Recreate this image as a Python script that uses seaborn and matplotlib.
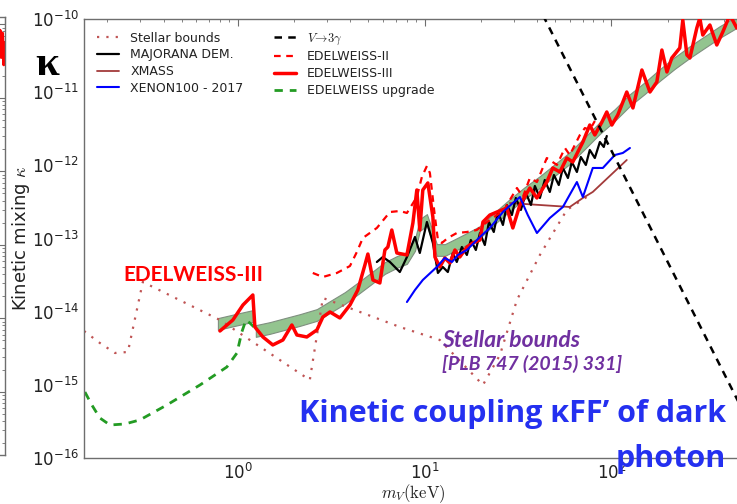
import numpy as np
import pandas as pd
import matplotlib
matplotlib.use("Agg")
import matplotlib.pyplot as plt
import seaborn as sns

# ---------------------------------------------------------------
# Limits on the kinetic mixing of a dark photon.
# All curves are given as log10(mass / keV) and log10(kappa).
# ---------------------------------------------------------------
stellar_logm = [-0.824, -0.739, -0.658, -0.589, -0.509, -0.096, 0.385, 0.455,
                0.867, 1.081, 1.312, 1.403, 1.494, 1.617, 1.761, 1.884]
stellar_logk = [-14.264, -14.428, -14.565, -14.551, -13.594, -14.114, -14.934, -13.813,
                -14.209, -14.387, -15.002, -14.592, -13.840, -13.225, -12.610, -12.405]

upgrade_logm = [-0.819, -0.782, -0.739, -0.685, -0.605, -0.525, -0.380, -0.203,
                -0.059, -0.005, 0.021, 0.043, 0.064, 0.086]
upgrade_logk = [-15.098, -15.275, -15.453, -15.549, -15.535, -15.480, -15.275, -15.002,
                -14.756, -14.565, -14.278, -14.114, -14.155, -14.209]

v3g_logm = [1.60, 2.699]
v3g_logk = [-9.78, -15.33]

xenon_logm = [0.905, 0.948, 0.990, 1.065, 1.108, 1.146, 1.178, 1.226, 1.296, 1.349,
              1.419, 1.472, 1.510, 1.552, 1.601, 1.670, 1.740, 1.815, 1.847, 1.900,
              1.954, 2.018, 2.061, 2.099]
xenon_logk = [-13.868, -13.704, -13.567, -13.389, -13.266, -13.321, -13.225, -13.157,
              -12.979, -12.856, -12.638, -12.515, -12.433, -12.679, -12.925, -12.720,
              -12.569, -12.228, -12.433, -12.036, -12.036, -11.859, -11.831, -11.763]

xmass_logm = [1.456, 1.777, 1.847, 1.900, 2.082]
xmass_logk = [-12.515, -12.569, -12.446, -12.364, -11.927]

edw2_logm = [0.401, 0.455, 0.530, 0.600, 0.637, 0.669, 0.744, 0.814, 0.867, 0.905,
             0.958, 0.985, 1.012, 1.028, 1.055, 1.071, 1.092, 1.124, 1.172, 1.226,
             1.279, 1.312, 1.387, 1.419, 1.456, 1.494, 1.526, 1.563, 1.601, 1.654,
             1.708, 1.751, 1.777, 1.831, 1.858, 1.884, 1.911]
edw2_logk = [-13.471, -13.526, -13.471, -13.376, -13.184, -12.993, -12.856, -12.638,
             -12.624, -12.651, -12.433, -12.159, -12.009, -12.105, -12.706, -13.020,
             -13.061, -12.993, -12.925, -12.911, -12.884, -12.815, -12.679, -12.638,
             -12.474, -12.310, -12.433, -12.173, -12.228, -11.900, -11.995, -11.763,
             -11.859, -11.585, -11.490, -11.517, -11.394]

majorana_logm = [0.744, 0.776, 0.814, 0.867, 0.905, 0.948, 0.974, 1.012, 1.044, 1.071,
                 1.097, 1.124, 1.151, 1.172, 1.199, 1.226, 1.247, 1.274, 1.296, 1.322,
                 1.344, 1.370, 1.392, 1.419, 1.440, 1.467, 1.488, 1.515, 1.542, 1.569,
                 1.590, 1.617, 1.643, 1.670, 1.692, 1.718, 1.740, 1.767, 1.788, 1.815,
                 1.836, 1.863, 1.884, 1.911, 1.938, 1.959, 1.975]
majorana_logk = [-13.321, -13.253, -13.321, -13.458, -13.253, -12.979, -13.198, -12.774,
                 -13.061, -13.471, -13.389, -13.458, -13.198, -13.321, -13.116, -13.225,
                 -13.020, -13.157, -12.925, -13.089, -12.774, -12.911, -12.638, -12.815,
                 -12.542, -12.679, -12.446, -12.610, -12.378, -12.542, -12.282, -12.446,
                 -12.200, -12.364, -12.132, -12.269, -12.036, -12.173, -11.954, -12.091,
                 -11.886, -11.995, -11.790, -11.900, -11.681, -11.749, -11.599]

edw3_logm = [-0.096, -0.027, 0.027, 0.080, 0.091, 0.134, 0.187, 0.241, 0.289, 0.316,
             0.369, 0.423, 0.455, 0.493, 0.546, 0.600, 0.642, 0.680, 0.696, 0.723,
             0.760, 0.787, 0.803, 0.824, 0.851, 0.905, 0.937, 0.958, 0.974, 0.990,
             1.017, 1.044, 1.055, 1.081, 1.108, 1.135, 1.162, 1.188, 1.226, 1.258,
             1.296, 1.312, 1.349, 1.387, 1.440, 1.472, 1.510, 1.563, 1.601, 1.654,
             1.686, 1.724, 1.761, 1.793, 1.847, 1.884, 1.911, 1.949, 1.975, 2.002,
             2.034, 2.082, 2.115, 2.163, 2.206, 2.243, 2.270, 2.297, 2.323, 2.366,
             2.382, 2.404, 2.420, 2.457, 2.473, 2.489, 2.527, 2.564, 2.596, 2.634,
             2.671, 2.714]
edw3_logk = [-14.264, -14.114, -13.909, -13.772, -14.209, -14.346, -14.455, -14.387,
             -14.182, -14.319, -14.346, -14.250, -14.073, -14.004, -14.086, -13.909,
             -13.704, -13.362, -13.212, -13.567, -13.608, -13.157, -13.116, -12.884,
             -13.198, -13.225, -12.788, -12.337, -12.884, -12.337, -12.241, -12.706,
             -13.253, -13.389, -13.266, -13.335, -13.157, -13.253, -13.116, -13.061,
             -13.020, -12.774, -12.679, -12.638, -12.583, -12.856, -12.542, -12.310,
             -12.446, -12.228, -12.036, -12.091, -11.900, -11.954, -11.681, -11.449,
             -11.585, -11.408, -11.271, -11.449, -11.312, -10.998, -11.216, -10.697,
             -10.998, -10.861, -10.424, -10.724, -10.533, -10.396, -10.014, -10.492,
             -10.533, -10.123, -9.986, -10.219, -10.082, -10.355, -10.178, -9.945,
             -10.123, -10.014]

# expected sensitivity band (centre line, +/- half width in dex), two pieces
band1_logm = [-0.107, -0.016, 0.080]
band1_logk = [-14.168, -14.114, -14.059]
band2_logm = [0.096, 0.171, 0.252, 0.332, 0.423, 0.493, 0.573, 0.653, 0.717, 0.787,
              0.851, 0.905, 0.948, 0.974, 1.012, 1.039, 1.065, 1.108, 1.162, 1.215,
              1.296, 1.376, 1.456, 1.536, 1.617, 1.697, 1.777, 1.858, 1.938, 2.018,
              2.099, 2.179, 2.259, 2.339, 2.420, 2.500, 2.580, 2.671, 2.714]
band2_logk = [-14.264, -14.223, -14.168, -14.114, -14.045, -13.936, -13.813, -13.663,
              -13.540, -13.403, -13.321, -13.266, -13.089, -12.815, -12.747, -12.952,
              -13.157, -13.157, -13.089, -13.020, -12.911, -12.720, -12.542, -12.378,
              -12.228, -12.064, -11.900, -11.695, -11.490, -11.312, -11.107, -10.943,
              -10.765, -10.601, -10.451, -10.314, -10.178, -10.041, -9.986]
band_half_dex = 0.08

# neighbouring panel edge (EDELWEISS-III curve near its upper limit)
side_x = [0.84, 0.88, 0.91, 0.94, 0.97, 1.00]
side_logk = [-10.62, -10.08, -10.45, -10.12, -10.55, -10.25]

# decade ticks
x_decades = [1, 10, 100]
y_decades = [1e-16, 1e-15, 1e-14, 1e-13, 1e-12, 1e-11, 1e-10]

# ---------------------------------------------------------------
sns.set_style("white")
plt.rcParams["font.family"] = ["DejaVu Sans"]
plt.rcParams["mathtext.fontset"] = "dejavusans"

W, H = 737, 504
fig = plt.figure(figsize=(W / 100, H / 100), dpi=100)
fig.patch.set_facecolor("white")

spine_col = "#6e6e6e"
lab_col = "#222222"


def style_axes(ax, right=True):
    for s in ax.spines.values():
        s.set_color(spine_col)
        s.set_linewidth(1.0)
    ax.tick_params(which="both", direction="in", top=True, right=right,
                   colors=spine_col, labelcolor=lab_col, labelsize=12)
    ax.tick_params(which="major", length=5, width=0.8)
    ax.tick_params(which="minor", length=2.5, width=0.6)


def curve(ax, x, y, **kw):
    df = pd.DataFrame({"x": x, "y": y})
    sns.lineplot(data=df, x="x", y="y", ax=ax, sort=False, estimator=None, **kw)


def logcurve(ax, logm, logk, **kw):
    curve(ax, 10 ** np.asarray(logm), 10 ** np.asarray(logk), **kw)


# --- neighbouring panel, mostly outside the canvas on the left
ax0 = fig.add_axes([-0.05, (H - 455) / H, 0.05 + 5 / W, 438 / H])
ax0.set_yscale("log")
curve(ax0, side_x, 10 ** np.asarray(side_logk), color="red", lw=2.2)
ax0.set_xlim(0, 1)
ax0.set_ylim(10 ** -15.86, 10 ** -9.9)
style_axes(ax0)
ax0.tick_params(which="both", labelbottom=False, labelleft=False,
                labeltop=False, labelright=False)
ax0.set_xlabel("")
ax0.set_ylabel("")

# --- main panel
ax = fig.add_axes([84 / W, (H - 458) / H, 658 / W, 439 / H])
ax.set_xscale("log")
ax.set_yscale("log")

for bm, bk in ((band1_logm, band1_logk), (band2_logm, band2_logk)):
    bm = np.asarray(bm)
    bk = np.asarray(bk)
    ax.fill_between(10 ** bm, 10 ** (bk - band_half_dex), 10 ** (bk + band_half_dex),
                    facecolor="#93c48f", edgecolor="#7f8f7f", lw=0.8, zorder=1)

logcurve(ax, stellar_logm, stellar_logk, color="#c05555", lw=1.6,
         linestyle=(0, (1, 3.2)), label="Stellar bounds", zorder=2)
logcurve(ax, upgrade_logm, upgrade_logk, color="#239b23", lw=2.0,
         linestyle=(0, (3, 2.5)), label="EDELWEISS upgrade", zorder=2)
logcurve(ax, xmass_logm, xmass_logk, color="#a33a3a", lw=1.3, label="XMASS", zorder=3)
logcurve(ax, majorana_logm, majorana_logk, color="black", lw=1.6,
         label="MAJORANA DEM.", zorder=3)
logcurve(ax, edw2_logm, edw2_logk, color="red", lw=1.6, linestyle=(0, (3, 2.5)),
         label="EDELWEISS-II", zorder=4)
logcurve(ax, edw3_logm, edw3_logk, color="red", lw=2.5, label="EDELWEISS-III", zorder=5)
logcurve(ax, xenon_logm, xenon_logk, color="blue", lw=1.5, label="XENON100 - 2017",
         zorder=5)
logcurve(ax, v3g_logm, v3g_logk, color="black", lw=1.8, linestyle=(0, (3, 2.5)),
         label=r"$V\!\rightarrow\!3\gamma$", zorder=6)

ax.set_xticks(x_decades)
ax.set_yticks(y_decades)
ax.set_xlim(0.15, 500)
ax.set_ylim(1e-16, 1e-10)
style_axes(ax, right=False)

ax.set_xlabel(r"$m_V(\mathrm{keV})$", fontsize=12, color=lab_col, labelpad=-0.3,
              math_fontfamily="cm")
ax.set_ylabel(r"Kinetic mixing $\kappa$", fontsize=13, color=lab_col, labelpad=0)
ax.yaxis.label.set_math_fontfamily("cm")

h, l = ax.get_legend_handles_labels()
order = ["Stellar bounds", "MAJORANA DEM.", "XMASS", "XENON100 - 2017",
         r"$V\!\rightarrow\!3\gamma$", "EDELWEISS-II", "EDELWEISS-III", "EDELWEISS upgrade"]
hmap = dict(zip(l, h))
leg = ax.legend([hmap[k] for k in order], order, ncol=2, loc="upper left",
                frameon=False, fontsize=9, labelspacing=0.3, handlelength=1.8,
                handletextpad=0.9, columnspacing=2.4, borderaxespad=0.6)
for t in leg.get_texts():
    t.set_color(lab_col)
    t.set_math_fontfamily("cm")

# --- annotations
fig.text(35 / W, (H - 75) / H, "κ", fontsize=31, fontweight="bold",
         family=["Liberation Serif", "DejaVu Serif"], color="black", va="baseline")
fig.text(123 / W, (H - 281) / H, "EDELWEISS-III", fontsize=15, fontweight="bold",
         family=["Lato", "DejaVu Sans"], color="red", va="baseline")
fig.text(442 / W, (H - 347) / H, "Stellar bounds", fontsize=16.5, fontweight="bold",
         style="italic", family=["Lato", "DejaVu Sans"], color="#7030a0", va="baseline")
fig.text(442 / W, (H - 370) / H, "[PLB 747 (2015) 331]", fontsize=14, fontweight="bold",
         style="italic", family=["Lato", "DejaVu Sans"], color="#7030a0", va="baseline")
fig.text(726 / W, (H - 422) / H, "Kinetic coupling κFF’ of dark", fontsize=22,
         fontweight="bold", family=["Open Sans", "DejaVu Sans"], color="#2430f0",
         ha="right", va="baseline", zorder=10)
fig.text(726 / W, (H - 467) / H, "photon", fontsize=22,
         fontweight="bold", family=["Open Sans", "DejaVu Sans"], color="#2430f0",
         ha="right", va="baseline", zorder=10)

fig.savefig("out.png", dpi=100, facecolor="white")
